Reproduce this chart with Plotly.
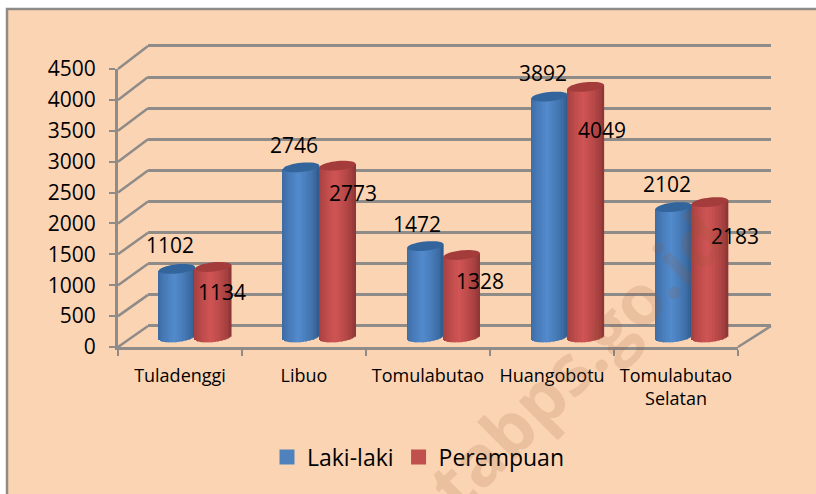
import math
import plotly.graph_objects as go

categories = ["Tuladenggi", "Libuo", "Tomulabutao", "Huangobotu", "Tomulabutao<br>Selatan"]
laki_laki = [1102, 2746, 1472, 3892, 2102]
perempuan = [1134, 2773, 1328, 4049, 2183]
y_ticks = [0, 500, 1000, 1500, 2000, 2500, 3000, 3500, 4000, 4500]

W, H = 816, 494
GREY = "#8e8b88"
FONT = "Open Sans"


def px(x):
    return x / W


def py(y):
    return (H - y) / H


# frame geometry in pixels (style only)
FRONT = dict(x0=118, x1=738, y0=347, y1=69)
BACK = dict(x0=148, x1=771, y0=326, y1=46)
BARS = dict(x0=133, x1=754, y0=337, y1=59)
unit_y = (BARS["y0"] - BARS["y1"]) / 4500
unit_x = (BARS["x1"] - BARS["x0"]) / 5
back_unit = (BACK["y0"] - BACK["y1"]) / 4500
BAR_PAD = 300   # axis room below zero so the rounded feet are not clipped
GRID_PAD = 100  # axis room so the end gridlines are drawn
BAR_W = 36.3 / unit_x
CAP_H = 4.6 / unit_y
TILT = 1.8 / unit_y
N = 26

# label offsets in pixels (style only)
blue_label_dx = [-7, -7, -8, -7, -7]
blue_label_dy = [24, 22, 22, 24, 23]
red_label_dx = [9, 16, 18, 16, 25]
red_label_dy = [-25, -27, -26, -43, -34]


def mix(a, b, t):
    return "rgb(%d,%d,%d)" % tuple(round(a[i] + (b[i] - a[i]) * t) for i in range(3))


def shade(u, edge, mid):
    t = max(0.0, 1 - abs(u + 0.12) / 1.12) ** 0.55
    return mix(edge, mid, t)


def cylinder(values, side, edge, mid):
    xs, bases, hs, cols = [], [], [], []
    for i, v in enumerate(values):
        c = i + 0.5 + side * BAR_W / 2
        for k in range(N):
            u = -1 + (2 * k + 1) / N
            r = math.sqrt(max(0.0, 1 - u * u))
            xs.append(c + u * BAR_W / 2)
            b = -CAP_H * 1.1 * r + TILT * u
            t = v + TILT * u
            bases.append(b)
            hs.append(t - b)
            cols.append(shade(u, edge, mid))
    return go.Bar(
        x=xs, y=hs, base=bases, width=BAR_W / N * 1.2,
        marker=dict(color=cols, line=dict(width=0)),
        xaxis="x3", yaxis="y3", showlegend=False, hoverinfo="skip",
    )


def cap(value, i, side, color):
    c = i + 0.5 + side * BAR_W / 2
    pts = []
    for k in range(40):
        a = 2 * math.pi * k / 40
        u = math.cos(a)
        pts.append((c + u * BAR_W / 2, value + TILT * u + CAP_H * math.sin(a)))
    path = "M" + " L".join("%.4f,%.2f" % p for p in pts) + " Z"
    return dict(type="path", xref="x3", yref="y3", path=path,
                fillcolor=color, line=dict(width=0), layer="above")


fig = go.Figure()

fig.add_trace(go.Scatter(x=categories, y=[None] * 5, mode="markers", showlegend=False, hoverinfo="skip"))
fig.add_trace(go.Scatter(x=[0, 5], y=[None, None], mode="markers", xaxis="x2", yaxis="y2",
                         showlegend=False, hoverinfo="skip"))

fig.add_trace(cylinder(laki_laki, -1, (44, 84, 132), (82, 138, 204)))
fig.add_trace(cylinder(perempuan, 1, (132, 48, 48), (208, 84, 84)))

for name, color in (("Laki-laki", "#4f81bd"), ("Perempuan", "#c0504d")):
    fig.add_trace(go.Scatter(x=[None], y=[None], mode="markers", name=name,
                             marker=dict(symbol="square", size=15, color=color)))

shapes = [
    dict(type="rect", xref="paper", yref="paper", x0=px(7), x1=px(W + 10), y0=py(9), y1=py(H + 10),
         fillcolor="#fbd4b4", line=dict(color=GREY, width=2.5), layer="below"),
]
for v in y_ticks:
    f = FRONT["y0"] + (FRONT["y1"] - FRONT["y0"]) * v / 4500
    b = BACK["y0"] + (BACK["y1"] - BACK["y0"]) * v / 4500
    shapes.append(dict(type="line", xref="paper", yref="paper",
                       x0=px(FRONT["x0"]), x1=px(BACK["x0"]), y0=py(f), y1=py(b),
                       line=dict(color=GREY, width=2.5), layer="below"))
shapes.append(dict(type="line", xref="paper", yref="paper",
                   x0=px(FRONT["x1"]), x1=px(BACK["x1"]), y0=py(FRONT["y0"]), y1=py(BACK["y0"]),
                   line=dict(color=GREY, width=2.5), layer="below"))
for i, v in enumerate(laki_laki):
    shapes.append(cap(v, i, -1, "#33659c"))
for i, v in enumerate(perempuan):
    shapes.append(cap(v, i, 1, "#a33c3b"))

annotations = []
for i, v in enumerate(laki_laki):
    annotations.append(dict(x=i + 0.5 - BAR_W / 2, y=v, xref="x3", yref="y3", text=str(v), showarrow=False,
                            xshift=blue_label_dx[i], yshift=blue_label_dy[i],
                            font=dict(family=FONT, size=21, color="#000000")))
for i, v in enumerate(perempuan):
    annotations.append(dict(x=i + 0.5 + BAR_W / 2, y=v, xref="x3", yref="y3", text=str(v), showarrow=False,
                            xshift=red_label_dx[i], yshift=red_label_dy[i],
                            font=dict(family=FONT, size=21, color="#000000")))
annotations.append(dict(x=px(576), y=py(360), xref="paper", yref="paper", text="<b>tabps.go.id</b>",
                        xanchor="center", yanchor="middle", showarrow=False, textangle=-45,
                        font=dict(family="Open Sans", size=70, color="rgba(150,90,50,0.16)")))

fig.update_layout(
    width=W, height=H,
    margin=dict(l=0, r=0, t=0, b=0, autoexpand=False),
    paper_bgcolor="#ffffff",
    plot_bgcolor="rgba(0,0,0,0)",
    barmode="overlay",
    font=dict(family=FONT, color="#000000"),
    shapes=shapes,
    annotations=annotations,
    legend=dict(orientation="h", x=px(267), y=py(457), xanchor="left", yanchor="middle",
                font=dict(family=FONT, size=23), bgcolor="rgba(0,0,0,0)", itemwidth=30),
    xaxis=dict(
        domain=[px(FRONT["x0"]), px(FRONT["x1"])], type="category",
        categoryorder="array", categoryarray=categories, range=[-0.5, 4.5],
        showline=True, linecolor=GREY, linewidth=3, showgrid=False, zeroline=False,
        ticks="outside", ticklen=6, tickwidth=2, tickcolor=GREY, tickson="boundaries",
        tickfont=dict(family=FONT, size=18), ticklabelstandoff=10, anchor="y",
    ),
    yaxis=dict(
        domain=[py(FRONT["y0"]), py(FRONT["y1"])], range=[0, 4500],
        tickvals=y_ticks, showline=True, linecolor=GREY, linewidth=3,
        showgrid=False, zeroline=False, ticks="outside", ticklen=6, tickwidth=2, tickcolor=GREY,
        tickfont=dict(family=FONT, size=21), ticklabelstandoff=9, anchor="x",
    ),
    xaxis2=dict(domain=[px(BACK["x0"]), px(BACK["x1"])], range=[0, 5], visible=False, anchor="y2"),
    yaxis2=dict(domain=[py(BACK["y0"] + GRID_PAD * back_unit), py(BACK["y1"] - GRID_PAD * back_unit)],
                range=[-GRID_PAD, 4500 + GRID_PAD], tickvals=y_ticks,
                showgrid=True, gridcolor=GREY, gridwidth=3, zeroline=False, showticklabels=False,
                showline=False, ticks="", anchor="x2"),
    xaxis3=dict(domain=[px(BARS["x0"]), px(BARS["x1"])], range=[0, 5], visible=False, anchor="y3"),
    yaxis3=dict(domain=[py(BARS["y0"] + BAR_PAD * unit_y), py(BARS["y1"])], range=[-BAR_PAD, 4500],
                visible=False, anchor="x3"),
)

fig.write_html("out.html", config={"displayModeBar": False},
               post_script="document.body.style.margin='0';document.body.style.overflow='hidden';")
